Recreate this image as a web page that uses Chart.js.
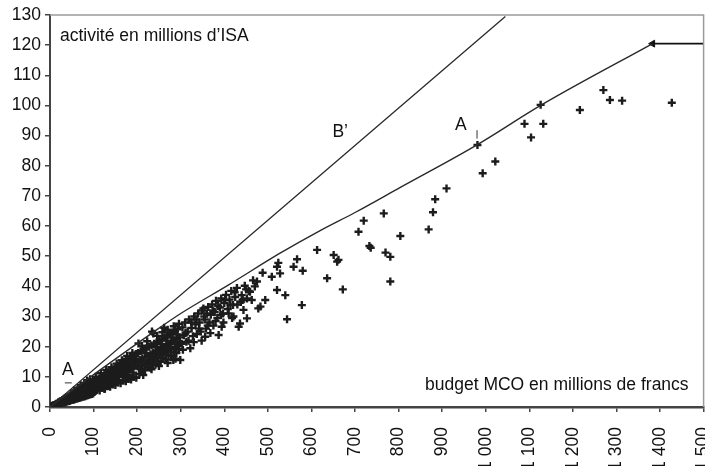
<!DOCTYPE html>
<html>
<head>
<meta charset="utf-8">
<title>budget MCO / activité ISA</title>
<script src="https://cdn.jsdelivr.net/npm/chart.js@4/dist/chart.umd.min.js"></script>
<style>
    html, body { margin: 0; padding: 0; background: #fff; overflow: hidden; }
    #wrap { width: 705px; height: 466px; overflow: hidden; }
</style>
</head>
<body>
<div id="wrap"><canvas id="isaChart" width="710" height="466"></canvas></div>
<script>
//axis settings
var xMin = 0, xMax = 1500, xStep = 100;
var yMin = 0, yMax = 130, yStep = 10;

//hospitals : budget MCO (millions de francs) and activité (millions d'ISA)
var hospBudget = [
    //dense band near origin
    2,4,5,7,8,10,11,13,14,16,17,19,20,22,23,25,26,28,29,31,32,34,35,37,38,40,41,43,44,46,47,49,50,
    52,53,55,56,58,59,61,62,64,65,67,68,70,71,73,74,76,77,79,80,82,83,85,86,88,89,91,92,94,95,97,98,
    60,75,90,70,85,
    3,6,9,12,15,18,21,24,27,30,33,36,39,42,45,48,51,54,57,60,63,66,69,72,75,78,81,84,87,90,93,96,99,
    20,30,40,50,57,66,74,81,88,95,45,62,78,94,55,66,80,92,
    //100 - 200
    100,101,103,104,106,107,109,110,112,113,115,116,118,119,121,122,124,125,127,128,130,131,133,134,
    136,137,139,140,142,143,145,146,148,149,151,152,154,155,157,158,160,161,163,164,166,167,169,170,
    172,173,175,176,178,179,181,182,184,185,187,188,190,191,193,194,196,197,199,
    125,150,175,
    102,108,114,120,126,132,138,144,150,156,162,168,174,180,186,192,198,
    105,117,129,141,153,165,177,189,
    111,123,135,147,159,171,183,195,107,119,131,143,155,167,179,191,
    //200 - 300
    200,202,204,206,208,210,212,214,215,217,219,221,223,225,227,229,231,233,235,237,239,241,243,245,
    247,249,251,253,255,257,259,261,263,265,267,269,271,273,275,277,279,281,283,285,287,289,291,293,
    295,297,299,
    203,234,237,262,
    205,211,218,224,230,236,242,248,254,260,266,272,278,284,290,296,
    211,223,246,258,270,284,296,
    207,213,220,226,232,240,244,252,256,264,268,274,280,286,292,298,233,250,270,288,
    //300 - 500
    302,304,307,310,313,316,319,322,325,328,331,334,337,340,343,346,349,352,355,356,358,360,363,366,
    369,372,375,378,381,384,387,390,393,394,397,400,404,408,412,416,420,421,425,429,433,436,438,440,
    444,447,452,452,456,459,463,466,470,475,478,483,488,494,
    305,311,318,324,330,336,342,348,354,362,368,374,380,386,392,398,402,410,414,418,424,430,442,450,
    //500 - 900
    509,521,521,524,528,540,544,559,567,578,580,613,636,651,659,662,672,
    708,720,733,736,766,770,781,781,804,869,879,884,910,
    //over 900
    981,993,1022,1089,1104,1126,1132,1216,1270,1285,1313,1427
];
var hospActivity = [
    0.1,0.3,0.4,0.4,0.6,0.7,0.6,0.9,1.1,0.9,1.2,1.5,1.1,1.5,1.9,1.4,1.8,2.3,1.6,2.1,2.7,1.9,2.4,3.1,2.1,2.8,3.4,2.4,3.1,3.8,2.6,3.4,4.2,
    2.9,3.7,4.6,3.1,4.0,5.0,3.4,4.3,5.3,3.6,4.6,5.7,3.9,4.9,6.1,4.1,5.2,6.4,4.4,5.5,6.8,4.6,5.9,7.2,4.9,6.2,7.5,5.1,6.5,7.9,5.4,6.8,
    3.8,5.0,6.3,7.2,8.8,
    0.1,0.3,0.4,0.5,0.7,0.8,0.9,1.1,1.2,1.4,1.5,1.6,1.8,1.9,2.0,2.2,2.3,2.4,2.6,2.7,2.8,3.0,3.1,3.2,3.4,3.5,3.6,3.8,3.9,4.1,4.2,4.3,4.5,
    1.6,2.3,3.0,3.6,4.4,4.9,5.6,6.2,6.8,7.2,2.5,3.3,3.9,5.0,5.5,6.4,8.0,9.2,
    5.8,7.4,8.6,6.2,7.0,9.0,6.5,7.8,9.4,6.9,8.1,9.9,7.3,8.5,10.2,7.6,8.9,10.7,8.0,9.2,11.1,8.3,9.6,11.5,
    8.7,10.0,12.0,9.1,10.3,12.4,9.4,10.7,12.8,9.8,11.1,13.3,10.1,11.5,13.7,10.5,11.8,14.1,10.9,12.2,14.6,11.2,12.6,15.0,
    11.6,13.0,15.4,12.0,13.3,15.9,12.4,13.7,16.3,12.7,14.1,16.7,13.1,14.4,17.1,13.5,14.8,17.6,13.8,
    6.0,8.2,9.8,
    5.0,5.6,5.5,6.3,6.1,6.9,6.7,7.5,7.3,8.1,7.9,8.8,8.5,9.3,9.1,10.0,9.7,
    10.0,11.2,12.3,13.2,14.4,15.5,16.9,17.9,
    8.6,9.8,10.6,11.9,12.8,13.9,15.0,15.8,6.0,7.0,7.6,8.5,9.0,10.0,10.6,11.4,
    15.2,17.9,13.2,15.6,18.5,13.7,16.1,10.6,19.0,14.2,16.6,19.4,14.6,17.0,20.0,15.1,17.5,20.4,15.6,18.0,21.0,16.1,18.5,21.5,
    16.6,19.0,22.0,17.1,19.5,22.6,17.6,20.0,23.1,18.1,20.5,23.7,18.6,21.0,24.2,19.2,21.6,24.7,15.6,22.1,25.3,19.8,22.6,25.8,
    20.3,23.1,15.6,
    21.1,25.0,24.4,26.3,
    11.0,12.0,12.2,13.3,13.0,14.2,14.0,15.1,15.0,16.2,15.8,17.2,17.0,18.3,17.9,19.2,
    20.3,21.8,23.6,24.8,25.6,26.8,27.6,
    12.6,14.8,17.8,15.4,16.4,17.2,19.8,18.2,20.8,19.0,22.0,19.9,23.0,21.0,24.0,21.6,12.5,13.6,14.6,16.0,
    21.0,26.4,23.8,28.0,21.6,25.0,29.0,19.5,26.2,23.5,30.0,27.4,24.2,31.0,28.0,25.0,32.0,32.7,29.0,23.3,26.0,31.0,33.2,28.0,
    30.6,34.0,27.0,31.5,35.2,29.5,23.9,33.0,36.0,26.6,31.0,34.5,37.2,32.5,35.6,38.5,33.8,30.0,36.5,39.5,26.6,27.7,34.8,37.1,
    32.2,40.2,29.4,36.0,38.5,38.2,35.5,42.0,40.0,41.6,32.7,33.3,44.5,35.5,
    19.0,24.5,22.0,28.0,21.5,29.0,26.0,22.0,30.0,27.0,24.5,32.0,28.5,33.5,30.5,28.0,35.5,31.0,34.0,29.5,38.0,34.0,35.5,39.0,
    43.2,46.5,38.8,47.8,44.3,37.1,29.1,46.5,49.0,33.8,45.2,52.1,42.7,50.4,48.2,48.8,39.0,
    58.1,61.8,53.4,52.8,64.2,51.2,49.8,41.6,56.7,58.9,64.6,68.9,72.5,
    86.9,77.5,81.4,93.9,89.4,100.2,93.9,98.5,105.1,101.8,101.6,100.9
];

//frontier A (efficient hospitals), its flat end, and line B'
var frontierX = [0, 60, 120, 234, 300, 410, 528, 620, 700, 800, 981, 1126, 1383];
var frontierY = [0, 6.5, 12.8, 24.5, 31, 40.5, 51, 58.5, 64.5, 72.5, 87, 100, 120.5];
var flatX = [1383, 1500];
var flatY = [120.5, 120.5];
var lineBX = [0, 528, 1045];
var lineBY = [0, 65.4, 129.5];

//curve labels (data coordinates)
var curveLabels = [
    { text: "A", x: 41, y: 12.3 },
    { text: "A", x: 943, y: 93.5 },
    { text: "B\u2019", x: 666, y: 91.3 }
];
var yTitle = "activit\u00e9 en millions d\u2019ISA";
var xTitle = "budget MCO en millions de francs";

function toPoints(xs, ys) {
    var pts = [];
    for (var i = 0; i < xs.length; i++) {
        pts.push({ x: xs[i], y: ys[i] });
    }
    return pts;
}

function frenchNumber(v) {
    if (v >= 1000) {
        return Math.floor(v / 1000) + ' ' + String(v % 1000).padStart(3, '0');
    }
    return String(v);
}

var textFont = '17.5px "Liberation Sans", Arial, sans-serif';

//plugin for the plot frame, labels and axis titles
var decorPlugin = {
    id: 'decor',
    afterDraw: function(chart) {
        var ctx = chart.ctx;
        var area = chart.chartArea;
        var xs = chart.scales.x;
        var ys = chart.scales.y;
        ctx.save();
        //grey frame top and right
        ctx.strokeStyle = '#9a9a9a';
        ctx.lineWidth = 1.5;
        ctx.beginPath();
        ctx.moveTo(area.left, area.top);
        ctx.lineTo(area.right, area.top);
        ctx.lineTo(area.right, area.bottom);
        ctx.stroke();

        ctx.fillStyle = '#111';
        ctx.font = textFont;
        ctx.textBaseline = 'middle';
        ctx.textAlign = 'left';
        ctx.fillText(yTitle, area.left + 10, area.top + 21);
        ctx.textAlign = 'right';
        ctx.fillText(xTitle, area.right - 15, area.bottom - 22);

        //curve labels
        ctx.textAlign = 'center';
        curveLabels.forEach(function(l) {
            ctx.fillText(l.text, xs.getPixelForValue(l.x), ys.getPixelForValue(l.y));
        });

        //small leader marks
        ctx.strokeStyle = '#333';
        ctx.lineWidth = 1;
        ctx.beginPath();
        ctx.moveTo(xs.getPixelForValue(34), ys.getPixelForValue(8));
        ctx.lineTo(xs.getPixelForValue(50), ys.getPixelForValue(8));
        ctx.moveTo(xs.getPixelForValue(980), ys.getPixelForValue(91.8));
        ctx.lineTo(xs.getPixelForValue(980), ys.getPixelForValue(89));
        ctx.stroke();
        ctx.restore();
    }
}; //end decorPlugin

var isaContext = document.getElementById('isaChart').getContext('2d');
var isaChart = new Chart(isaContext, {
    type: 'scatter',
    data: {
        datasets: [{
            label: "B'",
            data: toPoints(lineBX, lineBY),
            showLine: true,
            borderColor: '#2a2a2a',
            borderWidth: 1.3,
            pointRadius: 0,
            backgroundColor: 'transparent'
        },{
            label: 'A',
            data: toPoints(frontierX, frontierY),
            showLine: true,
            cubicInterpolationMode: 'monotone',
            borderColor: '#2a2a2a',
            borderWidth: 1.4,
            pointRadius: 0,
            backgroundColor: 'transparent'
        },{
            label: 'A plat',
            data: toPoints(flatX, flatY),
            showLine: true,
            borderColor: '#111',
            borderWidth: 1.8,
            pointRadius: 0,
            backgroundColor: 'transparent'
        },{
            label: 'fin A',
            data: [{ x: flatX[0], y: flatY[0] }],
            pointStyle: 'triangle',
            rotation: -90,
            pointRadius: 4,
            backgroundColor: '#111',
            borderColor: '#111',
            borderWidth: 1
        },{
            label: 'hôpitaux',
            data: toPoints(hospBudget, hospActivity),
            pointStyle: 'cross',
            pointRadius: 4,
            borderWidth: 2.4,
            borderColor: '#1c1c1c',
            backgroundColor: '#1c1c1c'
        }] //end datasets
    }, //end data
    options: {
        animation: false,
        responsive: false,
        events: [],
        layout: { padding: { top: 15, right: 0, left: 0, bottom: 0 } },
        plugins: {
            legend: { display: false },
            tooltip: { enabled: false }
        },
        scales: {
            x: {
                type: 'linear',
                min: xMin,
                max: xMax,
                afterFit: function(scale) {
                    scale.height = 59;
                    scale.paddingLeft = 0;
                    scale.paddingRight = 0;
                },
                grid: { display: true, drawOnChartArea: false, drawTicks: true, tickLength: 5, color: '#444', lineWidth: 1.5 },
                border: { display: true, color: '#444', width: 2.5 },
                ticks: {
                    stepSize: xStep,
                    autoSkip: false,
                    minRotation: 90,
                    maxRotation: 90,
                    padding: 15,
                    color: '#111',
                    font: { family: '"Liberation Sans", Arial, sans-serif', size: 17.5 },
                    callback: function(v) { return frenchNumber(v); }
                }
            },
            y: {
                type: 'linear',
                min: yMin,
                max: yMax,
                afterFit: function(scale) {
                    scale.width = 50;
                    scale.paddingTop = 0;
                    scale.paddingBottom = 0;
                },
                grid: { display: true, drawOnChartArea: false, drawTicks: true, tickLength: 5, color: '#444', lineWidth: 1.5 },
                border: { display: true, color: '#444', width: 2 },
                ticks: {
                    stepSize: yStep,
                    padding: 4,
                    color: '#111',
                    font: { family: '"Liberation Sans", Arial, sans-serif', size: 17.5 }
                }
            }
        } //end scales
    }, //end options
    plugins: [decorPlugin]
}); //end isaChart var
</script>
</body>
</html>
